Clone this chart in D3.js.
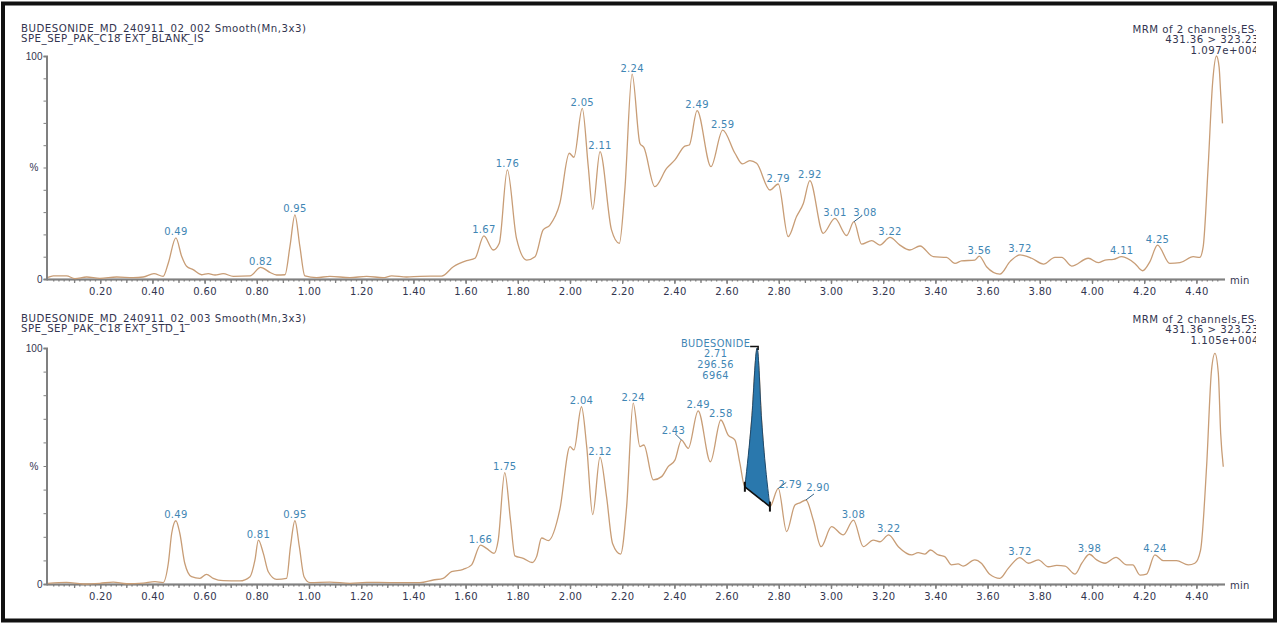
<!DOCTYPE html>
<html>
<head>
<meta charset="utf-8">
<script src="https://cdn.jsdelivr.net/npm/d3@7"></script>
<style>
body { margin: 0; background: #fff; }
svg { display: block; font-family: "DejaVu Sans", Verdana, sans-serif; }
</style>
</head>
<body>
<div id="chart"></div>
<script>
// ---- DATA ----
var topTitle = ["BUDESONIDE_MD_240911_02_002 Smooth(Mn,3x3)", "SPE_SEP_PAK_C18 EXT_BLANK_IS"];
var topInfo = ["MRM of 2 channels,ES-", "431.36 > 323.23", "1.097e+004"];
var botTitle = ["BUDESONIDE_MD_240911_02_003 Smooth(Mn,3x3)", "SPE_SEP_PAK_C18 EXT_STD_1"];
var botInfo = ["MRM of 2 channels,ES-", "431.36 > 323.23", "1.105e+004"];

var xTickLabels = ["0.20","0.40","0.60","0.80","1.00","1.20","1.40","1.60","1.80","2.00","2.20",
  "2.40","2.60","2.80","3.00","3.20","3.40","3.60","3.80","4.00","4.20","4.40"];
var yTickLabels = ["0", "%", "100"];

// retention time (min) / relative intensity (%)
var topTime = [0.000,0.020,0.071,0.103,0.148,0.199,0.263,0.326,0.365,0.406,0.441,0.461,0.490,0.512,0.531,0.556,
  0.588,0.614,0.640,0.671,0.710,0.774,0.815,0.850,0.876,0.908,0.927,0.946,0.965,0.984,1.029,1.080,1.157,1.221,
  1.284,1.317,1.374,1.425,1.508,1.553,1.604,1.636,1.670,1.706,1.729,1.760,1.795,1.834,1.866,1.897,1.923,1.961,
  1.997,2.015,2.047,2.070,2.087,2.115,2.159,2.189,2.210,2.238,2.268,2.283,2.325,2.370,2.402,2.440,2.457,2.487,
  2.540,2.585,2.632,2.661,2.689,2.715,2.766,2.798,2.836,2.868,2.894,2.919,2.970,3.015,3.060,3.088,3.117,3.156,
  3.187,3.226,3.264,3.302,3.341,3.392,3.443,3.475,3.500,3.551,3.568,3.596,3.647,3.686,3.724,3.769,3.814,3.858,
  3.884,3.922,3.986,4.024,4.050,4.082,4.114,4.164,4.194,4.222,4.251,4.298,4.337,4.388,4.413,4.426,4.445,4.462,
  4.477,4.487,4.493,4.500];
var topPct = [0.7,1.4,1.4,0.2,0.9,0.3,0.9,0.6,0.9,2.4,1.2,7.2,18.4,10.2,5.7,4.2,
  1.9,2.4,1.8,2.4,1.2,1.4,5.2,3.0,1.8,1.9,14.6,28.8,14.6,1.4,0.6,1.2,0.6,1.2,
  0.6,1.4,0.9,1.2,1.3,5.5,8.2,9.3,19.3,13.0,16.0,48.9,18.2,8.5,10.0,22.0,24.2,33.9,
  56.4,54.6,76.5,50.4,31.2,57.1,22.0,16.0,39.9,91.9,60.8,59.0,41.4,49.6,53.4,59.6,60.1,75.5,
  50.4,66.8,56.4,51.6,53.1,51.9,39.9,42.6,19.0,28.0,33.9,44.1,20.5,27.2,19.5,25.7,15.6,17.2,
  15.2,18.7,15.2,13.0,14.8,10.0,9.7,7.0,8.1,8.5,10.3,5.5,2.2,7.8,10.8,9.3,6.7,9.7,
  9.7,5.8,9.3,7.3,8.5,8.8,10.0,7.0,3.7,7.8,15.2,7.0,7.3,10.0,9.7,14.5,50.4,87.8,
  100,95.0,83.3,69.8];

var botTime = [0.000,0.071,0.135,0.199,0.250,0.301,0.365,0.410,0.441,0.461,0.474,0.490,0.505,0.524,0.550,0.582,
  0.607,0.633,0.671,0.735,0.774,0.793,0.806,0.825,0.844,0.876,0.914,0.929,0.946,0.963,0.981,1.004,1.080,1.157,
  1.221,1.310,1.425,1.476,1.514,1.546,1.591,1.623,1.657,1.680,1.709,1.725,1.750,1.772,1.789,1.821,1.855,1.872,
  1.891,1.917,1.961,2.000,2.015,2.044,2.064,2.087,2.115,2.140,2.163,2.194,2.217,2.242,2.268,2.283,2.319,2.351,
  2.376,2.402,2.427,2.453,2.491,2.538,2.578,2.606,2.632,2.651,2.670,2.696,2.717,2.734,2.766,2.798,2.830,2.862,
  2.881,2.904,2.932,2.962,3.002,3.047,3.086,3.124,3.162,3.187,3.221,3.258,3.309,3.334,3.360,3.381,3.411,3.436,
  3.462,3.487,3.506,3.551,3.576,3.608,3.647,3.679,3.724,3.756,3.794,3.833,3.865,3.897,3.935,3.961,3.990,4.018,
  4.050,4.092,4.133,4.156,4.184,4.209,4.241,4.273,4.324,4.369,4.394,4.416,4.439,4.458,4.471,4.484,4.493,4.503];
var botPct = [0.3,0.7,0.0,0.3,0.8,0.1,0.4,1.0,0.6,8.8,21.5,26.8,21.5,8.8,3.1,2.4,
  4.1,2.4,1.4,1.3,3.1,10.2,18.6,13.0,5.2,2.0,2.4,15.8,26.8,15.8,3.1,0.6,0.8,0.3,
  0.7,0.6,0.6,1.7,2.4,5.2,6.2,8.1,16.5,15.1,13.0,18.6,47.2,27.1,11.9,10.9,9.1,11.6,
  19.5,18.4,31.5,58.2,56.8,75.1,58.2,29.4,53.8,37.0,17.2,12.7,32.8,76.6,58.2,58.9,44.1,45.5,
  49.7,52.5,61.0,57.5,73.4,51.8,69.5,63.1,61.0,51.1,41.2,69.5,100,69.5,32.8,40.5,22.2,33.5,
  34.4,35.6,27.1,15.8,24.3,20.8,27.1,15.8,18.6,17.9,20.8,15.8,12.3,13.3,12.7,14.4,12.3,11.6,
  8.1,8.5,7.6,10.2,8.8,4.1,2.4,6.6,11.2,8.8,10.2,7.3,7.9,7.6,4.2,8.8,12.6,10.2,
  8.8,11.3,8.1,8.1,3.8,4.2,12.3,9.9,9.9,8.1,8.8,14.4,49.7,90.7,97.7,89.3,63.8,49.7];

var topPeaks = ["0.49","0.82","0.95","1.67","1.76","2.05","2.11","2.24","2.49","2.59","2.79","2.92",
  "3.01","3.08","3.22","3.56","3.72","4.11","4.25"];
var botPeaks = ["0.49","0.81","0.95","1.66","1.75","2.04","2.12","2.24","2.43","2.49","2.58","2.79",
  "2.90","3.08","3.22","3.72","3.98","4.24"];

// integrated peak in the lower trace
var budLabel = ["BUDESONIDE", "2.71", "296.56", "6964"];
var budStart = 2.670, budApex = 2.717, budEnd = 2.766;

// ---- DRAW ----
var W = 1280, H = 627;
var traceColor = "#c89d76", labelColor = "#3f86b4", textColor = "#33354f", axisColor = "#808080";

var svg = d3.select("#chart").append("svg")
  .attr("width", W)
  .attr("height", H);

svg.append("rect").attr("width", W).attr("height", H).attr("fill", "#fff");
svg.append("rect")
  .attr("x", 3).attr("y", 3.5).attr("width", 1272).attr("height", 617)
  .attr("fill", "none").attr("stroke", "#111").attr("stroke-width", 4);

svg.append("clipPath").attr("id", "infoclip")
  .append("rect").attr("x", 0).attr("y", 0).attr("width", 1256).attr("height", H);

var x = d3.scaleLinear().domain([0, 4.5]).range([48, 1222.5]);

var panels = [
  { title: topTitle, info: topInfo, top: 56, base: 279, titleY: 31.5, time: topTime, pct: topPct,
    peaks: topPeaks, offs: { "3.08": [11, -6] } },
  { title: botTitle, info: botInfo, top: 348, base: 584, titleY: 321.5, time: botTime, pct: botPct,
    peaks: botPeaks, offs: { "2.43": [-8, -6.5], "2.79": [12, 0], "2.90": [12, -8.5] }, bud: true }
];

panels.forEach(function(p) {
  var y = d3.scaleLinear().domain([0, 100]).range([p.base, p.top]);
  var g = svg.append("g");
  var pts = p.time.map(function(t, i) { return { t: t, v: p.pct[i] }; });

  // headers
  g.selectAll(".title").data(p.title).enter().append("text")
    .attr("x", 21).attr("y", function(d, i) { return p.titleY + i * 10.5; })
    .attr("font-size", 10.2).attr("letter-spacing", 0.5).attr("fill", textColor)
    .text(function(d) { return d; });
  g.append("g").attr("clip-path", "url(#infoclip)")
    .selectAll("text").data(p.info).enter().append("text")
    .attr("x", 1259).attr("y", function(d, i) { return p.titleY + 1 + i * 10.5; })
    .attr("text-anchor", "end").attr("font-size", 10.2).attr("letter-spacing", 0.5)
    .attr("fill", textColor)
    .text(function(d) { return d; });

  // x axis: minor, mid and labelled ticks
  var minor = d3.range(1, 225).map(function(i) { return i * 0.02; });
  var mids = d3.range(1, 45).map(function(i) { return i * 0.1; });
  var xg = g.append("g").attr("transform", "translate(0," + p.base + ")");
  xg.append("g").call(d3.axisBottom(x).tickValues(minor).tickSize(2.5).tickFormat(""));
  xg.append("g").call(d3.axisBottom(x).tickValues(mids).tickSize(4).tickFormat(""));
  xg.append("g").call(d3.axisBottom(x).tickValues(xTickLabels.map(Number)).tickSize(5)
    .tickFormat(function(d, i) { return xTickLabels[i]; }).tickPadding(4));
  xg.selectAll(".domain").attr("d", "M46.5,0.5H1225");
  xg.selectAll("line, path").attr("stroke", axisColor).attr("stroke-width", 1.3);
  xg.selectAll("text").attr("fill", textColor).attr("font-size", 10).attr("letter-spacing", 0.3)
    .attr("font-family", "DejaVu Sans, sans-serif");
  xg.append("text").attr("x", 1230).attr("y", 5).attr("fill", textColor)
    .attr("font-size", 10).attr("letter-spacing", 0.3).text("min");

  // y axis
  var yg = g.append("g").attr("transform", "translate(46.5,0)");
  yg.call(d3.axisLeft(y).tickValues(d3.range(0, 101, 10)).tickSize(3).tickFormat(""));
  yg.selectAll(".domain").attr("stroke-width", 2);
  yg.selectAll("line, path").attr("stroke", axisColor);
  yg.selectAll(".ylab").data([0, 50, 100]).enter().append("text")
    .attr("x", function(d) { return d === 50 ? -8 : -4; })
    .attr("y", function(d) { return y(d) + 3.5; })
    .attr("text-anchor", "end").attr("font-size", 10).attr("fill", textColor)
    .text(function(d, i) { return yTickLabels[i]; });

  // trace
  var line = d3.line()
    .x(function(d) { return x(d.t); })
    .y(function(d) { return y(d.v); })
    .curve(d3.curveMonotoneX);
  g.append("path").datum(pts)
    .attr("d", line)
    .attr("fill", "none")
    .attr("stroke", traceColor)
    .attr("stroke-width", 1.3);

  // integrated BUDESONIDE peak
  if (p.bud) {
    var seg = pts.filter(function(d) { return d.t >= budStart && d.t <= budEnd; });
    var s = seg[0], e = seg[seg.length - 1];
    var baseAt = function(t) { return s.v + (e.v - s.v) * (t - s.t) / (e.t - s.t); };
    var area = d3.area()
      .x(function(d) { return x(d.t); })
      .y0(function(d) { return y(baseAt(d.t)); })
      .y1(function(d) { return y(d.v); })
      .curve(d3.curveMonotoneX);
    g.append("path").datum(seg).attr("d", area)
      .attr("fill", "#2a78ad").attr("stroke", "#1c4a6e").attr("stroke-width", 1);
    g.append("line")
      .attr("x1", x(s.t)).attr("y1", y(s.v)).attr("x2", x(e.t)).attr("y2", y(e.v))
      .attr("stroke", "#111").attr("stroke-width", 1.6);
    [s, e].forEach(function(d) {
      g.append("line")
        .attr("x1", x(d.t)).attr("x2", x(d.t))
        .attr("y1", y(d.v) - 5).attr("y2", y(d.v) + 5)
        .attr("stroke", "#111").attr("stroke-width", 2);
    });
    var ax = x(budApex), ay = y(100);
    g.append("path")
      .attr("d", "M" + (ax - 7) + "," + (ay - 1.5) + "H" + (ax + 1) + "V" + (ay + 2))
      .attr("fill", "none").attr("stroke", "#111").attr("stroke-width", 1.5);
    var cx = ax - 41.5;
    g.selectAll(".bud").data(budLabel).enter().append("text")
      .attr("x", cx).attr("y", function(d, i) { return ay - 1.5 + i * 10.7; })
      .attr("text-anchor", "middle").attr("font-size", 9.8).attr("letter-spacing", 0.4)
      .attr("fill", labelColor)
      .text(function(d) { return d; });
  }

  // peak labels
  p.peaks.forEach(function(lab) {
    var t = +lab, best = null;
    pts.forEach(function(d) {
      if (Math.abs(d.t - t) <= 0.02 && (!best || d.v > best.v)) best = d;
    });
    var px = x(best.t), py = y(best.v);
    var o = p.offs[lab] || [0, -2.5];
    if (p.offs[lab]) {
      g.append("line")
        .attr("x1", px).attr("y1", py)
        .attr("x2", px + (o[0] > 0 ? 8 : -6)).attr("y2", py - 6)
        .attr("stroke", "#2f5f85").attr("stroke-width", 1);
    }
    g.append("text")
      .attr("x", px + o[0]).attr("y", py + o[1])
      .attr("text-anchor", "middle").attr("font-size", 10).attr("letter-spacing", 0.3)
      .attr("fill", labelColor)
      .text(lab);
  });
});
</script>
</body>
</html>
